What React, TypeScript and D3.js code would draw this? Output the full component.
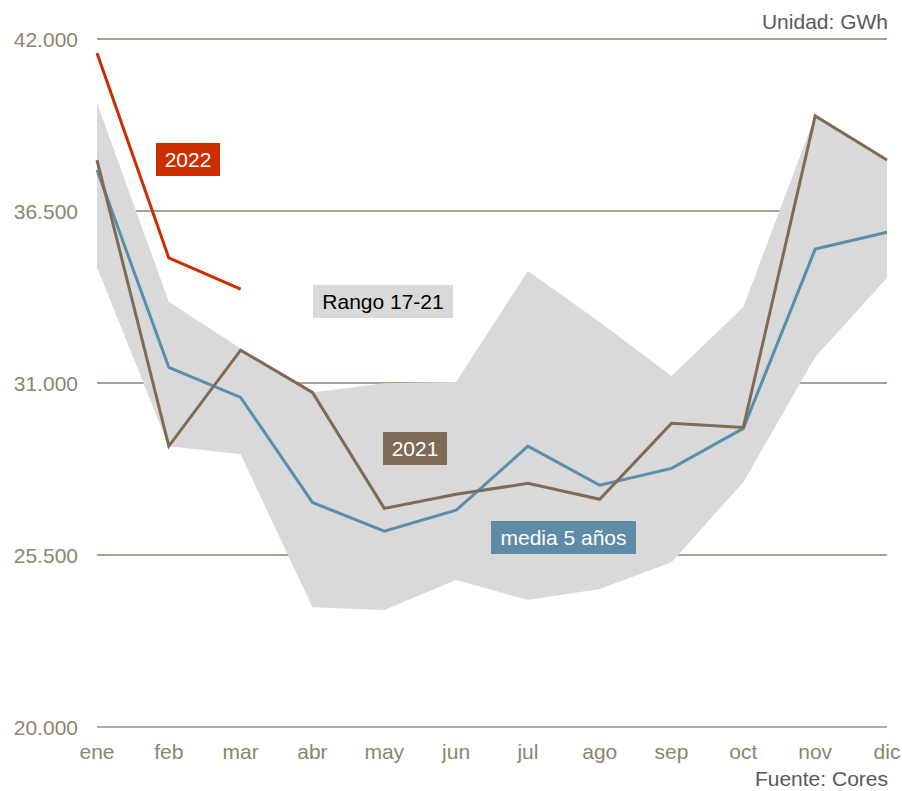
import React from 'react'
import * as d3 from 'd3'

const months = ['ene', 'feb', 'mar', 'abr', 'may', 'jun', 'jul', 'ago', 'sep', 'oct', 'nov', 'dic']
const yTicks = [20000, 25500, 31000, 36500, 42000]

const rangeHigh = [39950, 33600, 32100, 30700, 30990, 31030, 34580, 32950, 31220, 33430, 39540, 38130]
const rangeLow = [34700, 28980, 28720, 23830, 23740, 24700, 24060, 24410, 25270, 27830, 31830, 34360]
const media5 = [37810, 31500, 30540, 27180, 26260, 26930, 28980, 27730, 28270, 29550, 35280, 35820]
const y2021 = [38130, 28980, 32050, 30700, 26990, 27440, 27790, 27280, 29710, 29580, 39540, 38130]
const y2022 = [41550, 35000, 34000]

const W = 902
const H = 791
const fontFamily = 'Liberation Sans, Arial, sans-serif'

export default function App() {
  var x = d3
    .scalePoint<string>()
    .domain(months)
    .range([97, 887])
  var y = d3
    .scaleLinear()
    .domain([20000, 42000])
    .range([727, 39])

  var area = d3
    .area<number>()
    .x((d, i) => x(months[i]) as number)
    .y0((d, i) => y(rangeLow[i]))
    .y1(d => y(d))

  var line = d3
    .line<number>()
    .x((d, i) => x(months[i]) as number)
    .y(d => y(d))

  var fmt = (v: number) => d3.format(',.3f')(v / 1000).replace(',', '')

  const label = (text: string, x0: number, y0: number, w: number, fill: string, color: string) => (
    <g>
      <rect x={x0} y={y0} width={w} height={33} fill={fill} />
      <text
        x={x0 + w / 2}
        y={y0 + 24}
        textAnchor="middle"
        fontSize={21}
        fill={color}
        fontFamily={fontFamily}
      >
        {text}
      </text>
    </g>
  )

  return (
    <svg width={W} height={H} style={{ position: 'absolute', left: 0, top: 0 }}>
      <rect width={W} height={H} fill="white" />
      {yTicks.map(t => (
        <g key={t}>
          <line
            x1={97}
            x2={887}
            y1={y(t)}
            y2={y(t)}
            stroke={t === 20000 ? '#8f8f8f' : '#8c8570'}
            strokeWidth={1.5}
          />
          <text
            x={78}
            y={y(t) + 7.5}
            textAnchor="end"
            fontSize={21}
            fill="#8c8570"
            fontFamily={fontFamily}
          >
            {fmt(t)}
          </text>
        </g>
      ))}
      <path d={area(rangeHigh) || ''} fill="#d9d9d9" />
      <path d={line(media5) || ''} fill="none" stroke="#5b8eaa" strokeWidth={3} />
      <path d={line(y2021) || ''} fill="none" stroke="#7e6b55" strokeWidth={3} />
      <path d={line(y2022) || ''} fill="none" stroke="#cc2e00" strokeWidth={3} />
      {months.map(m => (
        <text
          key={m}
          x={x(m)}
          y={759}
          textAnchor="middle"
          fontSize={21}
          fill="#8c8570"
          fontFamily={fontFamily}
        >
          {m}
        </text>
      ))}
      {label('2022', 156, 143, 64, '#cc2e00', 'white')}
      {label('Rango 17-21', 313, 285, 140, '#d9d9d9', 'black')}
      {label('2021', 383, 432, 64, '#7e6b55', 'white')}
      {label('media 5 años', 491, 521, 145, '#5e8ca7', 'white')}
      <text x={888} y={29} textAnchor="end" fontSize={21} fill="#595959" fontFamily={fontFamily}>
        Unidad: GWh
      </text>
      <text x={888} y={786} textAnchor="end" fontSize={21} fill="#595959" fontFamily={fontFamily}>
        Fuente: Cores
      </text>
    </svg>
  )
}
